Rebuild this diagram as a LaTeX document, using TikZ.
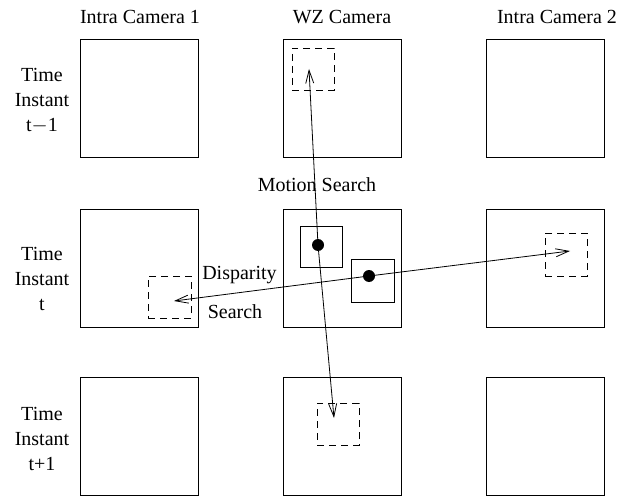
\documentclass[tikz,border=0pt]{standalone}
\usepackage{fontspec}
\setmainfont{Liberation Serif}
\usetikzlibrary{arrows.meta}
\begin{document}
\begin{tikzpicture}[x=1pt,y=-1pt,
  frame/.style={draw, line width=1pt, minimum width=118pt, minimum height=118pt, inner sep=0pt},
  inbox/.style={draw, line width=0.9pt, minimum width=42pt, minimum height=42pt, inner sep=0pt},
  dbox/.style={draw, line width=0.9pt, dash pattern=on 7pt off 5pt, minimum width=42pt, minimum height=42pt, inner sep=0pt},
  lbl/.style={font=\fontsize{20}{25}\selectfont, inner sep=0pt, align=center},
  dot/.style={circle, fill=black, minimum size=12pt, inner sep=0pt},
  arr/.style={line width=0.8pt, -{Straight Barb[length=13pt,width=8pt,line width=0.8pt]}}]
\useasboundingbox (0,0) rectangle (618,497);
% titles
\node[lbl] (t1) at (140,17) {Intra Camera 1};
\node[lbl] (t2) at (342,17) {WZ Camera};
\node[lbl] (t3) at (557,17) {Intra Camera 2};
% row labels
\node[lbl] (r1) at (42,101) {Time\\Instant\\t$-$1};
\node[lbl] (r2) at (42,279) {Time\\Instant\\t};
\node[lbl] (r3) at (42,439) {Time\\Instant\\t+1};
% frames
\node[frame] (a1) at (139.5,99) {};
\node[frame] (b1) at (342.5,99) {};
\node[frame] (c1) at (545,99) {};
\node[frame] (a2) at (139.5,268) {};
\node[frame] (b2) at (342.5,268) {};
\node[frame] (c2) at (545,268) {};
\node[frame] (a3) at (139.5,436.5) {};
\node[frame] (b3) at (342.5,436.5) {};
\node[frame] (c3) at (545,436.5) {};
% inner blocks
\node[inbox, minimum height=41pt] (m1) at (321,246.5) {};
\node[inbox, minimum width=43pt, minimum height=43pt] (m2) at (372.5,280.5) {};
\node[dot] (d1) at (318,245) {};
\node[dot] (d2) at (369,276) {};
% dashed search windows
\node[dbox] (s1) at (313,69) {};
\node[dbox, minimum width=43pt] (s2) at (169.5,297) {};
\node[dbox, minimum height=43pt] (s3) at (566,254.5) {};
\node[dbox] (s4) at (338,424) {};
% arrow ends
\coordinate (e1) at (309,69);
\coordinate (e2) at (174,301);
\coordinate (e3) at (570,251);
\coordinate (e4) at (334,418);
\draw[arr] (d1.center) -- (e1);
\draw[arr] (d1.center) -- (e4);
\draw[arr] (d2.center) -- (e2);
\draw[arr] (d2.center) -- (e3);
% labels
\node[lbl] (ms) at (317,185) {Motion Search};
\node[lbl] (dp) at (239.5,275) {Disparity};
\node[lbl] (ds) at (235,312) {Search};
\end{tikzpicture}
\end{document}
